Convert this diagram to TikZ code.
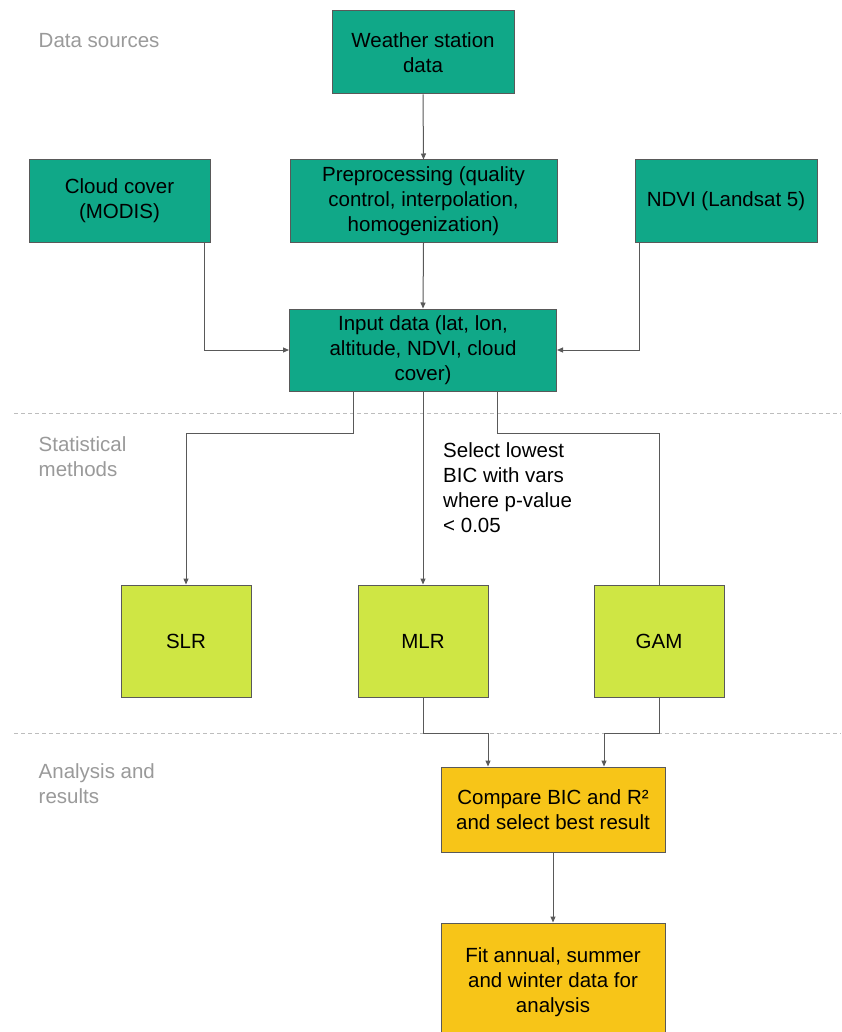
\documentclass[tikz,border=0pt]{standalone}
\usepackage{fontspec}
\setmainfont{Liberation Sans}
\usetikzlibrary{arrows.meta,calc}
\definecolor{teal}{HTML}{10A888}
\definecolor{lime}{HTML}{CFE644}
\definecolor{gold}{HTML}{F7C518}
\definecolor{edge}{HTML}{595959}
\definecolor{lbl}{HTML}{9A9A9A}
\definecolor{dash}{HTML}{BDBDBD}
\begin{document}
\begin{tikzpicture}[x=1pt,y=-1pt,
  box/.style={draw=edge,line width=1pt,align=center,inner sep=0pt,font=\fontsize{20.5}{25}\selectfont},
  tealbox/.style={box,fill=teal},
  limebox/.style={box,fill=lime},
  goldbox/.style={box,fill=gold},
  conn/.style={draw=edge,line width=1pt},
  arr/.style={conn,-{Triangle[length=6pt,width=5pt]}},
  lab/.style={text=lbl,align=left,anchor=north west,inner sep=0pt,font=\fontsize{20.5}{25.5}\selectfont},
  sep/.style={draw=dash,line width=1pt,dash pattern=on 4pt off 3pt}]
\useasboundingbox (0,0) rectangle (841,1032);
\fill[white] (0,0) rectangle (841,1032);

\draw[sep] (14,413) -- (841,413);
\draw[sep] (14,733) -- (841,733);

\node[lab] (l1) at (38.5,33) {Data sources};
\node[lab] (l2) at (38.5,436) {Statistical\\methods};
\node[lab] (l3) at (38.5,763) {Analysis and\\results};

\node[tealbox,minimum width=182pt,minimum height=83pt] (ws) at (423,52.5) {Weather station\\data};
\node[tealbox,minimum width=181pt,minimum height=82pt] (cloud) at (119.5,201) {Cloud cover\\(MODIS)};
\node[tealbox,minimum width=267pt,minimum height=82pt] (pre) at (423.5,201) {Preprocessing (quality\\control, interpolation,\\homogenization)};
\node[tealbox,minimum width=182pt,minimum height=82pt] (ndvi) at (726,201) {NDVI (Landsat 5)};
\node[tealbox,minimum width=267pt,minimum height=82pt] (inp) at (423,350) {Input data (lat, lon,\\altitude, NDVI, cloud\\cover)};

\node[limebox,minimum width=130pt,minimum height=112pt] (slr) at (186,641) {SLR};
\node[limebox,minimum width=130pt,minimum height=112pt] (mlr) at (423,641) {MLR};
\node[limebox,minimum width=130pt,minimum height=112pt] (gam) at (659,641) {GAM};

\node[goldbox,minimum width=224pt,minimum height=85pt] (cmp) at (553,809.5) {Compare BIC and R²\\and select best result};
\node[goldbox,minimum width=224pt,minimum height=118pt] (fit) at (553,982) {Fit annual, summer\\and winter data for\\analysis};

\node[align=left,anchor=north west,inner sep=0pt,font=\fontsize{20.5}{25}\selectfont] (sel) at (443,442) {Select lowest\\BIC with vars\\where p-value\\< 0.05};

\draw[arr] (ws.south) -- (pre.north);
\draw[arr] (pre.south) -- (inp.north);
\draw[arr] ($(cloud.south east)+(-6,0)$) |- (inp.west);
\draw[arr] ($(ndvi.south west)+(5,0)$) |- (inp.east);

\draw[arr] ($(inp.south)+(-70,0)$) -- ++(0,42) -| (slr.north);
\draw[arr] (inp.south) -- (mlr.north);
\draw[conn] ($(inp.south)+(74,0)$) -- ++(0,42) -| (gam.north);

\draw[arr] (mlr.south) -- ++(0,36) -| ($(cmp.north)+(-65,0)$);
\draw[arr] (gam.south) -- ++(0,36) -| ($(cmp.north)+(51,0)$);
\draw[arr] (cmp.south) -- (fit.north);
\end{tikzpicture}
\end{document}
